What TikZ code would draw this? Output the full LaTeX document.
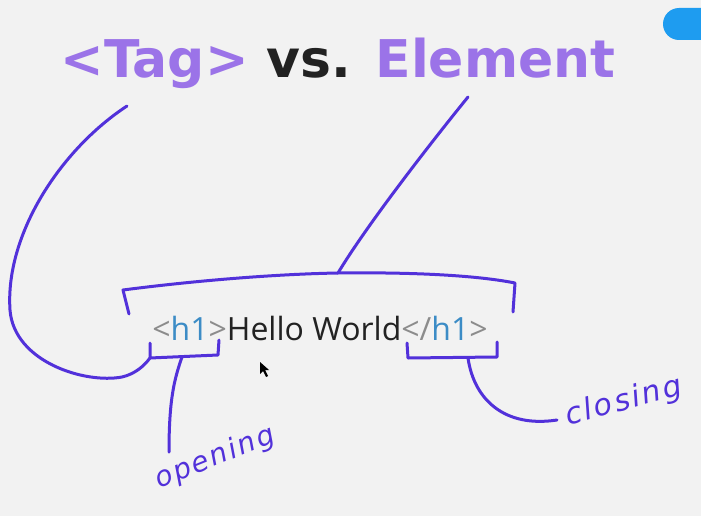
\documentclass[tikz,border=0pt]{standalone}
\usepackage{fontspec}
\setmainfont{Open Sans}
\newfontfamily\titlefont{DejaVu Sans}[UprightFont=* Bold]
\newfontfamily\handfont{DejaVu Sans}[LetterSpace=8]
\definecolor{bgc}{HTML}{F2F2F2}
\definecolor{tagc}{HTML}{9B73E8}
\definecolor{darkc}{HTML}{222222}
\definecolor{inkc}{HTML}{5231DA}
\definecolor{grayc}{HTML}{8C8C8C}
\definecolor{h1c}{HTML}{3C8CC6}
\definecolor{pillc}{HTML}{1E9CF0}
\tikzset{
  ink/.style={draw=inkc, line width=3pt, line cap=round, line join=round},
  titletext/.style={font=\titlefont\fontsize{52}{60}\selectfont, text=darkc, anchor=base, inner sep=0pt},
  codetext/.style={font=\fontsize{32}{36}\selectfont, text=darkc, anchor=base, inner sep=0pt},
  handtext/.style={font=\handfont\itshape\fontsize{28}{34}\selectfont, text=inkc, inner sep=0pt},
}
\begin{document}
\begin{tikzpicture}[x=1pt,y=-1pt]
  \useasboundingbox (0,0) rectangle (701,516);
  \clip (0,0) rectangle (701,516);
  \fill[bgc] (0,0) rectangle (701,516);

  % status pill in the corner
  \fill[pillc, rounded corners=16pt] (663,8) rectangle (730,40);

  % heading
  \node[titletext] (title) at (338,78)
    {\textcolor{tagc}{<Tag>} vs. \textcolor{tagc}{Element}};

  % the markup line
  \node[codetext] (code) at (320,340)
    {\textcolor{grayc}{<}\textcolor{h1c}{h1}\textcolor{grayc}{>}Hello World\textcolor{grayc}{</}\textcolor{h1c}{h1}\textcolor{grayc}{>}};

  % hand-written labels
  \node[handtext, rotate=22] (opening) at (215,458) {opening};
  \node[handtext, rotate=15, font=\handfont\itshape\fontsize{30}{36}\selectfont] (closing) at (624,402) {closing};

  % anchor points for the strokes
  \coordinate (tagTop) at (127,106);
  \coordinate (elTop) at (468,97);
  \coordinate (tbLo) at (129,314);
  \coordinate (tbLt) at (123,290);
  \coordinate (tbM) at (338,273);
  \coordinate (tbRt) at (515,283);
  \coordinate (tbRo) at (513,312);
  \coordinate (obA) at (150,343);
  \coordinate (obB) at (150,358);
  \coordinate (obC) at (218,355);
  \coordinate (obD) at (219,340);
  \coordinate (obMid) at (182,357);
  \coordinate (openEnd) at (169,452);
  \coordinate (cbA) at (407,343);
  \coordinate (cbB) at (408,358);
  \coordinate (cbC) at (497,357);
  \coordinate (cbD) at (497,342);
  \coordinate (cbMid) at (468,358);
  \coordinate (closeEnd) at (557,420);

  % bracket over the whole element
  \draw[ink] (tbLo) -- (tbLt) .. controls (200,280) and (280,274) .. (tbM)
    .. controls (420,272) and (480,276) .. (tbRt) -- (tbRo);
  \draw[ink] (tbM) .. controls (365,228) and (425,150) .. (elTop);

  % brackets under the tags
  \draw[ink] (obA) -- (obB) -- (obC) -- (obD);
  \draw[ink] (cbA) -- (cbB) -- (cbC) -- (cbD);

  % long sweep from the heading to the opening tag
  \draw[ink] (tagTop) .. controls (60,150) and (5,235) .. (10,310)
    .. controls (14,362) and (85,384) .. (122,377)
    .. controls (135,374) and (144,366) .. (obB);

  % leaders to the labels
  \draw[ink] (obMid) .. controls (174,380) and (169,400) .. (openEnd);
  \draw[ink] (cbMid) .. controls (474,400) and (505,428) .. (closeEnd);

  % mouse pointer
  \fill[black] (260,362) -- (260,374) -- (263,371) -- (266,377) -- (268,376)
    -- (265,370) -- (269,370) -- cycle;
\end{tikzpicture}
\end{document}
